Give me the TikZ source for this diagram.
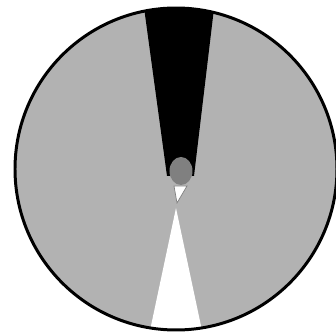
\documentclass[tikz,border=0pt]{standalone}
\begin{document}
\begin{tikzpicture}[x=.02cm,y=-.02cm]
  \useasboundingbox (0,0) rectangle (336,334);
  \fill[gray!60] (176,169) circle (161);
  \begin{scope}
    \clip (176,169) circle (161);
    \fill (143,0)--(215,0)--(194,176)--(167,176)--cycle;
    \fill[white] (176,208)--(148,340)--(204,340)--cycle;
  \end{scope}
  \fill[gray] (181,171) ellipse (11.5 and 14);
  \filldraw[fill=white,draw=gray] (174,186)--(187,186)--(177,203)--cycle;
  \draw[line width=1.7pt] (176,169) circle (161);
\end{tikzpicture}
\end{document}
